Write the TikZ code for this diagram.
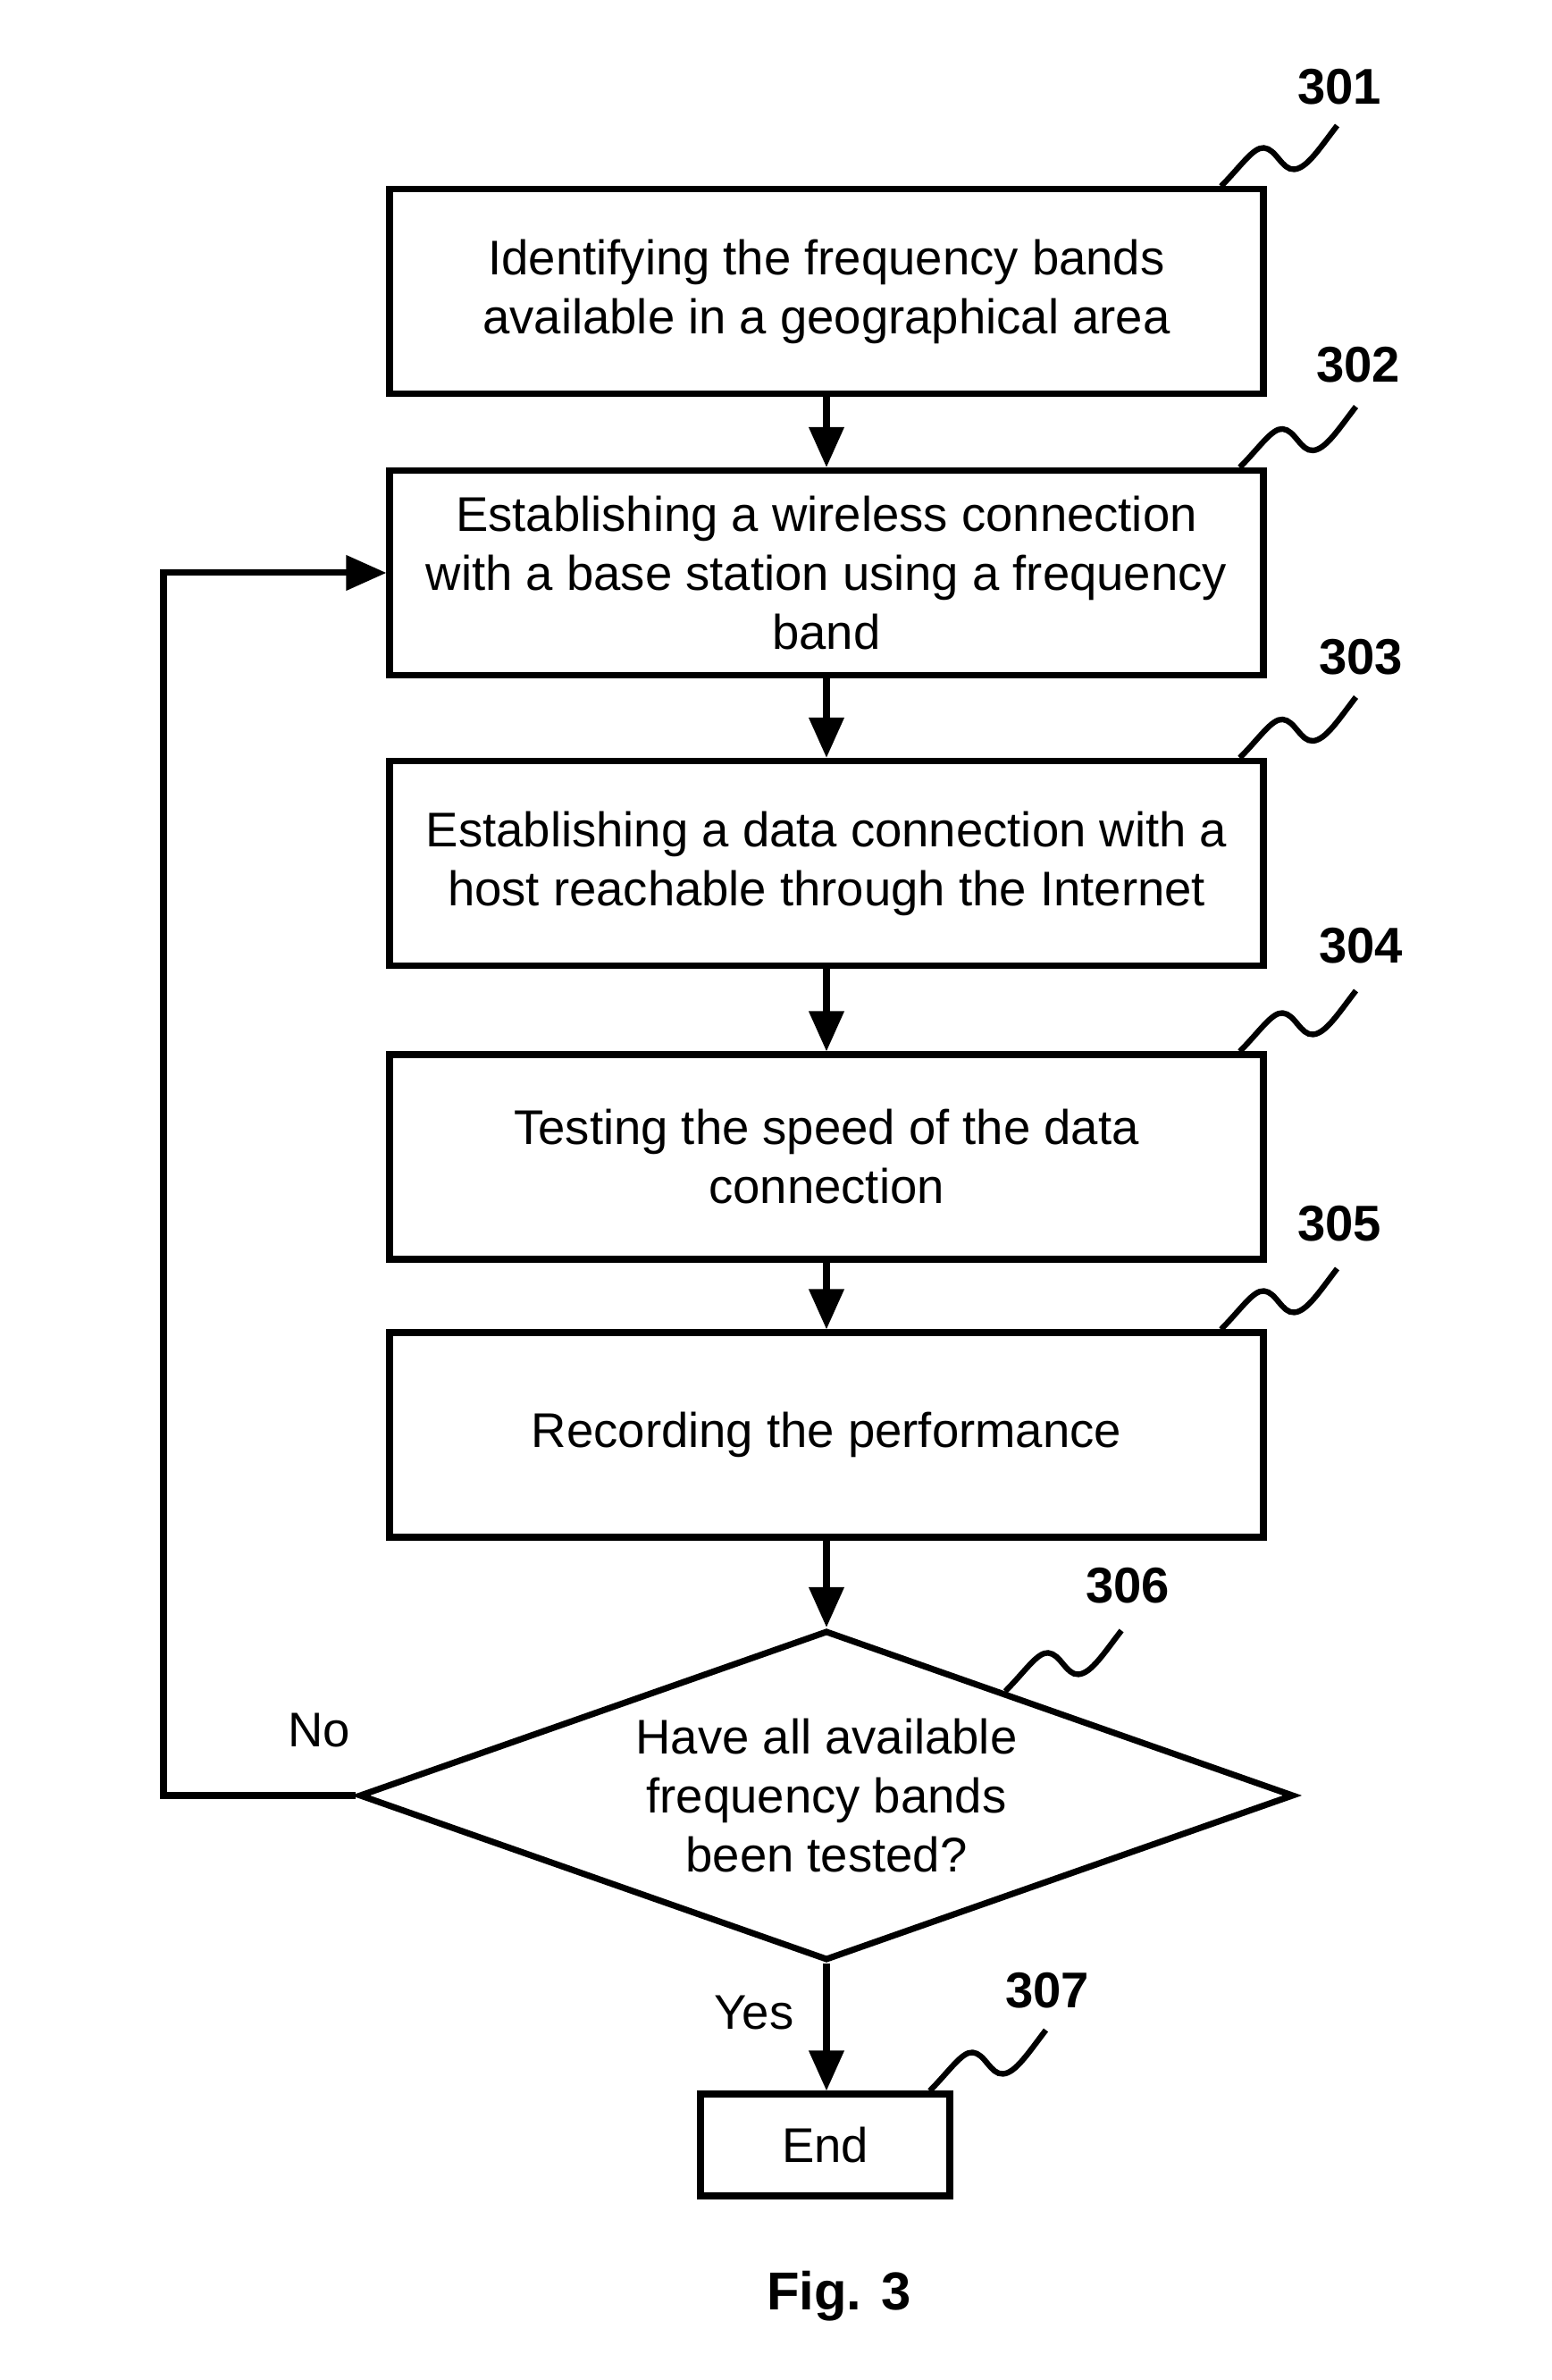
\documentclass[tikz,border=0pt]{standalone}
\usepackage{fontspec}
\setmainfont{Liberation Sans}
\usetikzlibrary{shapes.geometric,arrows.meta,calc}

\tikzset{
	stepbox/.style={draw, line width=2pt, minimum width=9.78cm, minimum height=2.29cm, align=center, inner sep=0pt, font=\fontsize{15.5}{18.8}\selectfont},
	decision/.style={draw, diamond, line width=2pt, aspect=2.83, minimum width=10.46cm, minimum height=3.69cm, align=center, inner sep=0pt, font=\fontsize{15.5}{18.8}\selectfont},
	flow/.style={line width=2pt, -{Triangle[length=0.45cm,width=0.38cm]}},
	refnum/.style={font=\bfseries\fontsize{16}{19}\selectfont},
	answer/.style={font=\fontsize{15.5}{18.8}\selectfont},
	leader/.pic={\draw[line width=1.8pt] (0,0) .. controls (0.22,0.22) and (0.36,0.44) .. (0.48,0.43) .. controls (0.62,0.42) and (0.68,0.18) .. (0.82,0.19) .. controls (0.96,0.20) and (1.10,0.42) .. (1.30,0.68);}
}

\begin{document}
\begin{tikzpicture}
						\useasboundingbox (0,0) rectangle (17.37,26.63);
						% steps
						\node[stepbox] (b301) at (9.25,23.365) {Identifying the frequency bands\\available in a geographical area};
						\node[stepbox] (b302) at (9.25,20.22) {Establishing a wireless connection\\with a base station using a frequency\\band};
						\node[stepbox] (b303) at (9.25,16.97) {Establishing a data connection with a\\host reachable through the Internet};
						\node[stepbox] (b304) at (9.25,13.685) {Testing the speed of the data\\connection};
						\node[stepbox] (b305) at (9.25,10.575) {Recording the performance};
						\node[decision] (d306) at (9.25,6.54) {Have all available\\frequency bands\\been tested?};
						\node[stepbox, minimum width=2.79cm, minimum height=1.14cm] (e307) at (9.235,2.63) {End};
						% arrows
						\draw[flow] (b301) -- (b302);
						\draw[flow] (b302) -- (b303);
						\draw[flow] (b303) -- (b304);
						\draw[flow] (b304) -- (b305);
						\draw[flow] (b305) -- (d306);
						\draw[flow] (d306.south) -- (d306.south |- e307.north);
						\coordinate (loop) at (1.83,20.22);
						\draw[flow] (d306.west) -| (loop) -- (b302.west);
						% answers
						\node[answer] (no) at (3.57,7.27) {No};
						\node[answer] (yes) at (8.44,4.11) {Yes};
						% reference numbers
						\path (b301.north east) ++(-0.51,0) pic {leader};
						\path (b302.north east) ++(-0.30,0) pic {leader};
						\path (b303.north east) ++(-0.30,0) pic {leader};
						\path (b304.north east) ++(-0.30,0) pic {leader};
						\path (b305.north east) ++(-0.51,0) pic {leader};
						\path ($(d306.north)!0.38!(d306.east)$) pic {leader};
						\path (e307.north east) ++(-0.26,0) pic {leader};
						\node[refnum] (n301) at (14.99,25.66) {301};
						\node[refnum] (n302) at (15.20,22.55) {302};
						\node[refnum] (n303) at (15.23,19.28) {303};
						\node[refnum] (n304) at (15.23,16.05) {304};
						\node[refnum] (n305) at (14.99,12.94) {305};
						\node[refnum] (n306) at (12.62,8.89) {306};
						\node[refnum] (n307) at (11.72,4.36) {307};
						% caption
						\node[font=\bfseries\fontsize{17}{20}\selectfont] (fig) at (9.39,0.94) {Fig. 3};
					\end{tikzpicture}
\end{document}
